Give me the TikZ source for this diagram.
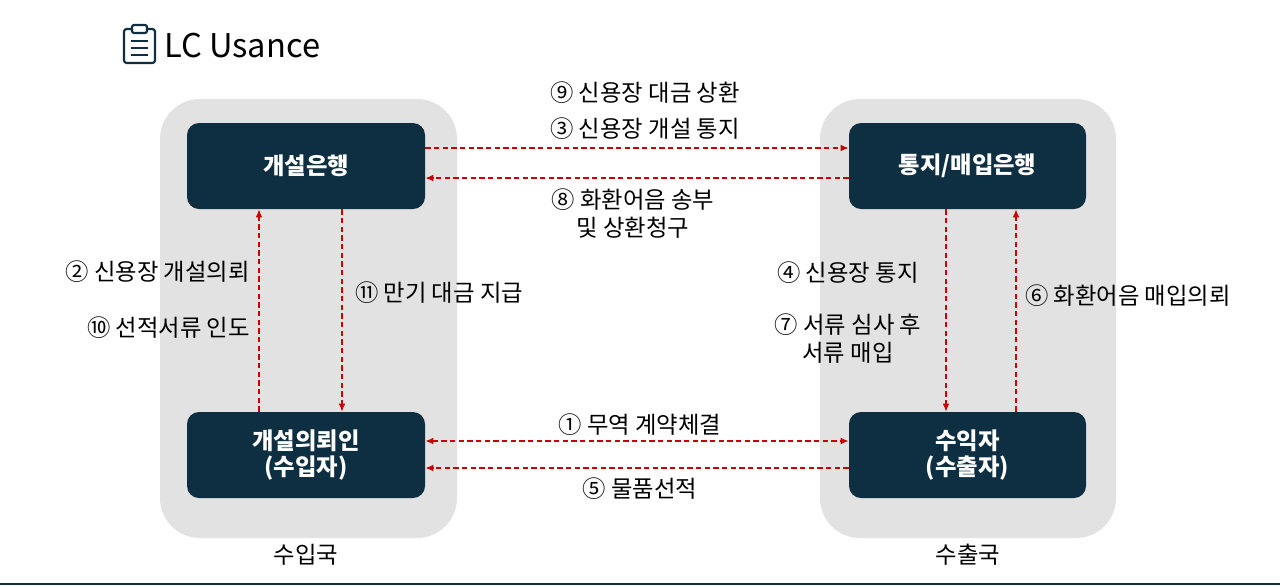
\documentclass[tikz,border=0pt]{standalone}
\usepackage{fontspec}
\setmainfont{Noto Sans CJK KR}
\usetikzlibrary{arrows.meta}
\definecolor{navy}{HTML}{0E2F42}
\definecolor{greyreg}{HTML}{E2E2E2}
\definecolor{arr}{HTML}{CC0000}
\tikzset{
  region/.style={fill=greyreg, rounded corners=30pt},
  bank/.style={fill=navy, rounded corners=9pt, text=white, font=\fontsize{17.5}{20}\selectfont\bfseries, align=center},
  flow/.style={arr, dashed, dash pattern=on 4pt off 2.5pt, line width=1.1pt, -{Latex[length=6pt,width=5pt]}},
  lbl/.style={font=\fontsize{17.5}{21}\selectfont, align=center, inner sep=0pt},
}
\begin{document}
\begin{tikzpicture}[x=0.75pt,y=-0.75pt]
\useasboundingbox (0,0) rectangle (1280,586);
\fill[white] (0,0) rectangle (1280,586);
\draw[navy, line width=1.5pt] (0,584) -- (1280,584);
% title
\draw[navy, line width=1.6pt, rounded corners=2pt] (124,29) rectangle (155,63);
\fill[white] (132,25) rectangle (147,33);
\draw[navy, line width=1.6pt, rounded corners=1.5pt] (132,25) rectangle (147,33);
\foreach \yy in {41,48,55} \draw[navy, line width=1.6pt] (131,\yy) -- (148,\yy);
\node[anchor=west, inner sep=0pt, font=\fontsize{24.5}{29}\selectfont] (title) at (164,46) {LC Usance};
% regions
\fill[region] (160,99) rectangle (457,538);
\fill[region] (820,99) rectangle (1116,538);
\node[lbl] (imp) at (306,555) {수입국};
\node[lbl] (exp) at (968,555) {수출국};
% boxes
\node[bank, minimum width=178.5pt, minimum height=64.5pt] (ob) at (306,166) {개설은행};
\node[bank, minimum width=177.75pt, minimum height=64.5pt] (ab) at (967.5,166) {통지/매입은행};
\node[bank, minimum width=178.5pt, minimum height=64.5pt] (ap) at (306,455) {개설의뢰인\\(수입자)};
\node[bank, minimum width=177.75pt, minimum height=64.5pt] (be) at (967.5,455) {수익자\\(수출자)};
% horizontal top
\draw[flow] (ob.east |- 0,148) -- (ab.west |- 0,148);
\draw[flow] (ab.west |- 0,178) -- (ob.east |- 0,178);
\node[lbl] (l9) at (645,93) {⑨ 신용장 대금 상환};
\node[lbl] (l3) at (645,129) {③ 신용장 개설 통지};
\node[lbl] (l8) at (633,214) {⑧ 화환어음 송부\\및 상환청구};
% horizontal bottom
\draw[flow, {Latex[length=6pt,width=5pt]}-{Latex[length=6pt,width=5pt]}] (ap.east |- 0,441) -- (be.west |- 0,441);
\draw[flow] (be.west |- 0,468) -- (ap.east |- 0,468);
\node[lbl] (l1) at (640,425) {① 무역 계약체결};
\node[lbl] (l5) at (640,489) {⑤ 물품선적};
% left verticals
\draw[flow] (ap.north -| 259,0) -- (ob.south -| 259,0);
\draw[flow] (ob.south -| 342,0) -- (ap.north -| 342,0);
\node[lbl, anchor=east] (l2) at (250,272) {② 신용장 개설의뢰};
\node[lbl, anchor=east] (l10) at (250,328) {⑩ 선적서류 인도};
\node[lbl, anchor=west] (l11) at (355,293) {⑪ 만기 대금 지급};
% right verticals
\draw[flow] (ab.south -| 946,0) -- (be.north -| 946,0);
\draw[flow] (be.north -| 1016,0) -- (ab.south -| 1016,0);
\node[lbl] (l4) at (848,273) {④ 신용장 통지};
\node[lbl] (l7) at (848,339) {⑦ 서류 심사 후\\서류 매입};
\node[lbl, anchor=west] (l6) at (1025,296) {⑥ 화환어음 매입의뢰};
\end{tikzpicture}
\end{document}
